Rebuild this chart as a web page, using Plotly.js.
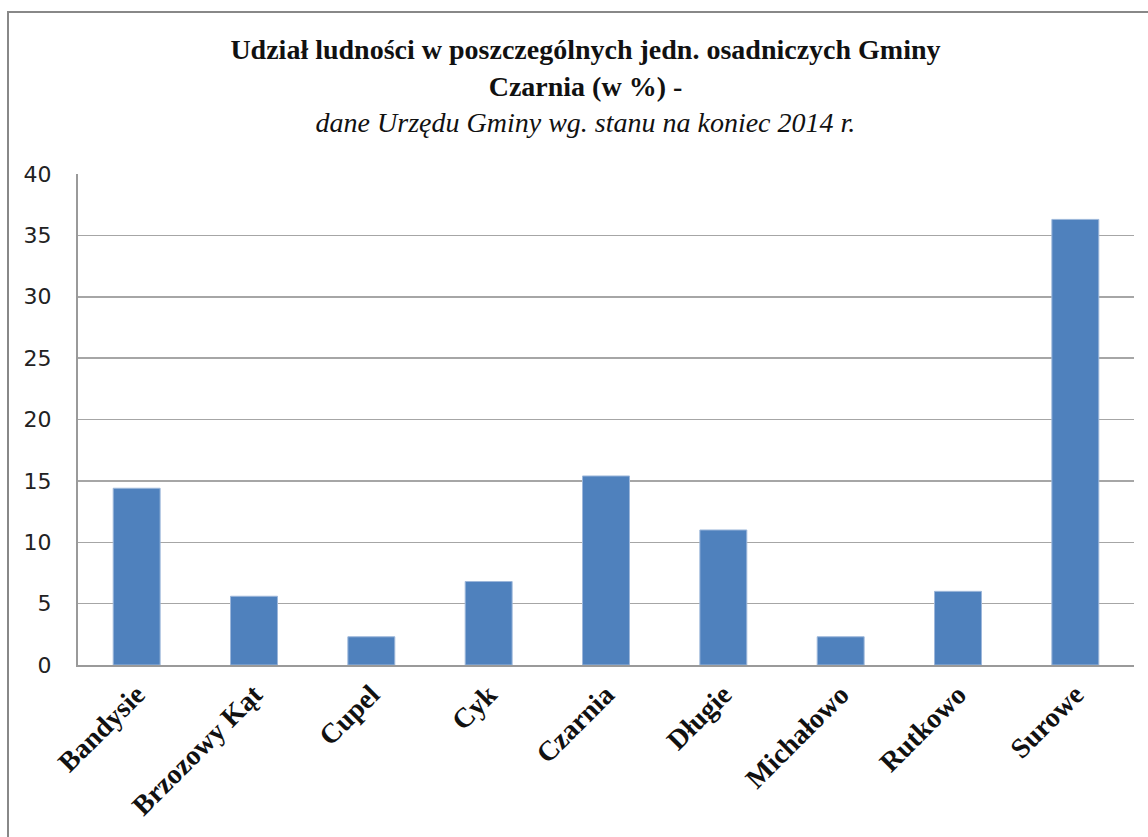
<!DOCTYPE html>
<html>
<head>
<meta charset="utf-8">
<script src="https://cdn.plot.ly/plotly-3.0.1.min.js"></script>
<style>
html,body{margin:0;padding:0;background:#fff;}
#chart{width:1148px;height:837px;}
</style>
</head>
<body>
<div id="chart"></div>
<script>
const categories = ["Bandysie","Brzozowy Kąt","Cupel","Cyk","Czarnia","Długie","Michałowo","Rutkowo","Surowe"];
const values = [14.4, 5.6, 2.3, 6.8, 15.4, 11.0, 2.3, 6.0, 36.3];
const yTicks = [0,5,10,15,20,25,30,35,40];

const trace = {
  type: 'bar',
  x: categories,
  y: values,
  marker: {color: '#4F81BD', line: {color: '#9DB7DA', width: 1}},
  hoverinfo: 'x+y'
};

const layout = {
  width: 1148, height: 837,
  margin: {l: 78, r: 14, t: 174, b: 172},
  paper_bgcolor: '#ffffff',
  plot_bgcolor: '#ffffff',
  bargap: 0.6,
  showlegend: false,
  title: {
    text: '<b>Udział ludności w poszczególnych jedn. osadniczych Gminy</b><br><b>Czarnia (w %) -</b><br><i>dane Urzędu Gminy wg. stanu na koniec 2014 r.</i>',
    font: {family: 'Liberation Serif, serif', size: 28, color: '#111'},
    x: 0.51, xref: 'container', xanchor: 'center',
    y: 0.929, yref: 'container', yanchor: 'top'
  },
  xaxis: {
    type: 'category',
    tickangle: -45,
    tickfont: {family: 'Liberation Serif, serif', size: 28, color: '#111', weight: 'bold'},
    showgrid: false,
    showline: true, linecolor: '#9a9a9a', linewidth: 2,
    ticks: '',
    fixedrange: true
  },
  yaxis: {
    range: [0, 40],
    tickvals: yTicks,
    ticktext: yTicks.map(String),
    tickfont: {family: 'DejaVu Sans, sans-serif', size: 22, color: '#222'},
    showgrid: true, gridcolor: '#a6a6a6', gridwidth: 1.5,
    showline: true, linecolor: '#9a9a9a', linewidth: 2,
    zeroline: false,
    ticks: '',
    ticklabelstandoff: 20,
    fixedrange: true
  },
  shapes: [{
    type: 'rect', xref: 'paper', yref: 'paper',
    x0: (8-78)/1056, x1: 1.2, y0: -0.5, y1: (665-12)/491,
    line: {color: '#888888', width: 2}, fillcolor: 'rgba(0,0,0,0)', layer: 'below'
  }]
};

Plotly.newPlot('chart', [trace], layout, {displayModeBar: false, staticPlot: true});
</script>
</body>
</html>
